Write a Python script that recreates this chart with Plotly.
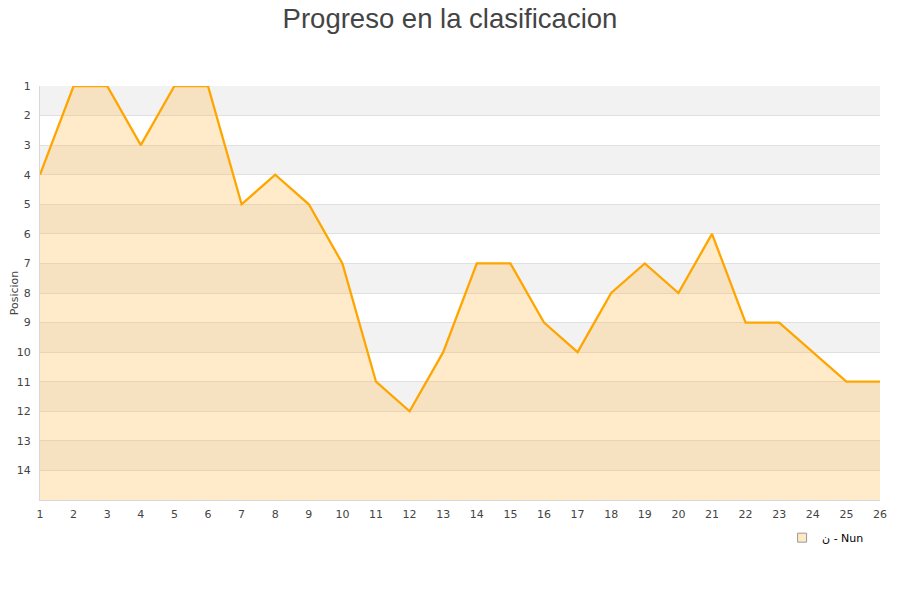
import plotly.graph_objects as go

jornadas = list(range(1, 27))
posiciones = [4, 1, 1, 3, 1, 1, 5, 4, 5, 7, 11, 12, 10, 7, 7, 9, 10, 8, 7, 8, 6, 9, 9, 10, 11, 11]
fondo = [15] * len(jornadas)
filas = list(range(1, 15))

fig = go.Figure()

# franjas alternas
for p in filas:
    if p % 2 == 1:
        fig.add_shape(type='rect', xref='paper', yref='y', x0=0, x1=1, y0=p, y1=p + 1,
                      fillcolor='#f2f2f2', line_width=0, layer='below')

fig.add_trace(go.Scatter(x=jornadas, y=fondo, mode='lines', line=dict(width=0),
                         showlegend=False, hoverinfo='skip'))
fig.add_trace(go.Scatter(x=jornadas, y=posiciones, mode='lines', name='Nun',
                         line=dict(color='#ffa500', width=2.3), showlegend=False,
                         fill='tonexty', fillcolor='rgba(255,190,80,0.3)'))
# entrada de leyenda
fig.add_trace(go.Scatter(x=[None], y=[None], mode='markers', name='\u0646 - Nun',
                         marker=dict(symbol='square', size=9, color='#fde9c4',
                                     line=dict(color='#999999', width=1))))

fig.update_layout(
    width=900, height=600,
    title=dict(text='Progreso en la clasificacion', x=0.5 - 8 / 900, y=1 - 10 / 600,
               xanchor='center', yanchor='middle',
               font=dict(family='Liberation Sans', size=27.5, color='#444444')),
    font=dict(family='DejaVu Sans', size=11, color='#444444'),
    plot_bgcolor='white', paper_bgcolor='white',
    margin=dict(l=32, r=28, t=78, b=108),
    showlegend=True,
    legend=dict(x=0.987, y=-0.056, xanchor='right', yanchor='top', bgcolor='rgba(0,0,0,0)',
                font=dict(size=11, color='#000000'), itemwidth=30),
    xaxis=dict(range=[1, 26], tickmode='array', tickvals=jornadas, showgrid=False,
               zeroline=False, showline=True, linecolor='#d8d8d8', ticks='',
               ticklabelstandoff=4, automargin=False),
    yaxis=dict(range=[15, 1], tickmode='array', tickvals=filas, showgrid=True,
               gridcolor='#e0e0e0', zeroline=False, showline=True, linecolor='#d8d8d8',
               title=dict(text='Posicion', font=dict(size=11), standoff=6), ticks='',
               ticklabelstandoff=6, automargin=False),
)

fig.write_html("out.html")
